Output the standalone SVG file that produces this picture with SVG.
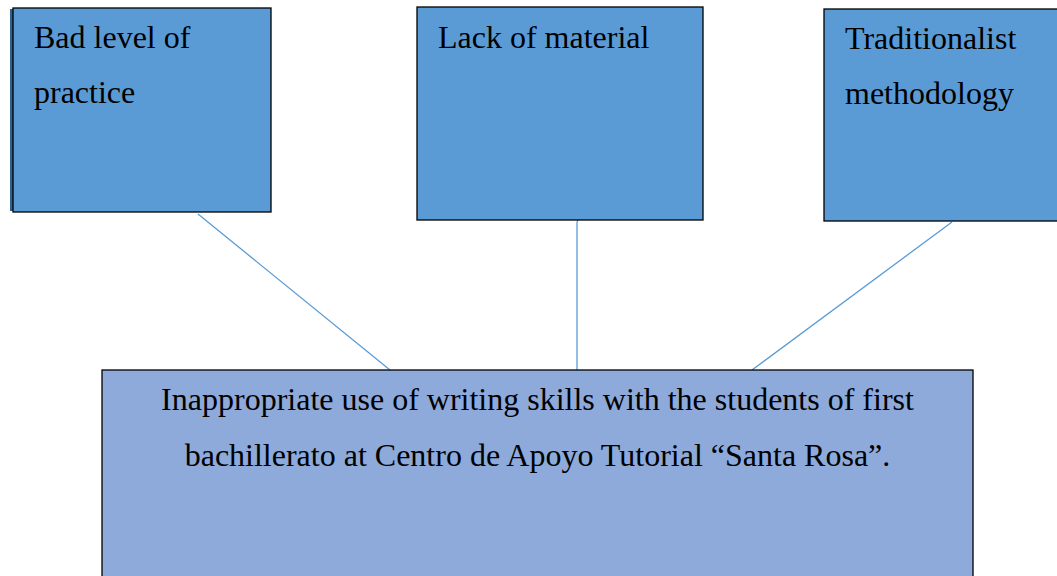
<svg xmlns="http://www.w3.org/2000/svg" width="1057" height="576" viewBox="0 0 1057 576">
<style>
.box{fill:#5B9BD5;stroke:#000;stroke-width:1.3}
.main{fill:#8EAADB;stroke:#000;stroke-width:1.3}
.t{font-family:"Liberation Serif","Times New Roman",serif;font-size:32px;fill:#000}
.c{stroke:#5B9BD5;stroke-width:1.3;fill:none}
</style>
<rect width="1057" height="576" fill="#fff"/>
<g id="connectors">
<line class="c" x1="198" y1="214" x2="390" y2="370"/>
<path class="c" d="M577,370 V223 Q577,220 579,219"/>
<line class="c" x1="952" y1="222" x2="752" y2="370"/>
</g>
<g id="node-bad-level">
<rect x="10" y="9" width="3" height="202" fill="#2F5F8F"/>
<rect class="box" x="13" y="8" width="258" height="204"/>
<text class="t" x="34" y="48">Bad level of</text>
<text class="t" x="34" y="103">practice</text>
</g>
<g id="node-lack-material">
<rect class="box" x="417" y="7" width="286" height="213"/>
<text class="t" x="438" y="48">Lack of material</text>
</g>
<g id="node-traditionalist">
<rect class="box" x="824" y="9" width="240" height="212"/>
<text class="t" x="845" y="49">Traditionalist</text>
<text class="t" x="845" y="104">methodology</text>
</g>
<g id="node-problem">
<rect class="main" x="102" y="370" width="871" height="220"/>
<text class="t" x="537.5" y="410" text-anchor="middle">Inappropriate use of writing skills with the students of first</text>
<text class="t" x="537.5" y="466" text-anchor="middle">bachillerato at Centro de Apoyo Tutorial “Santa Rosa”.</text>
</g>
</svg>
